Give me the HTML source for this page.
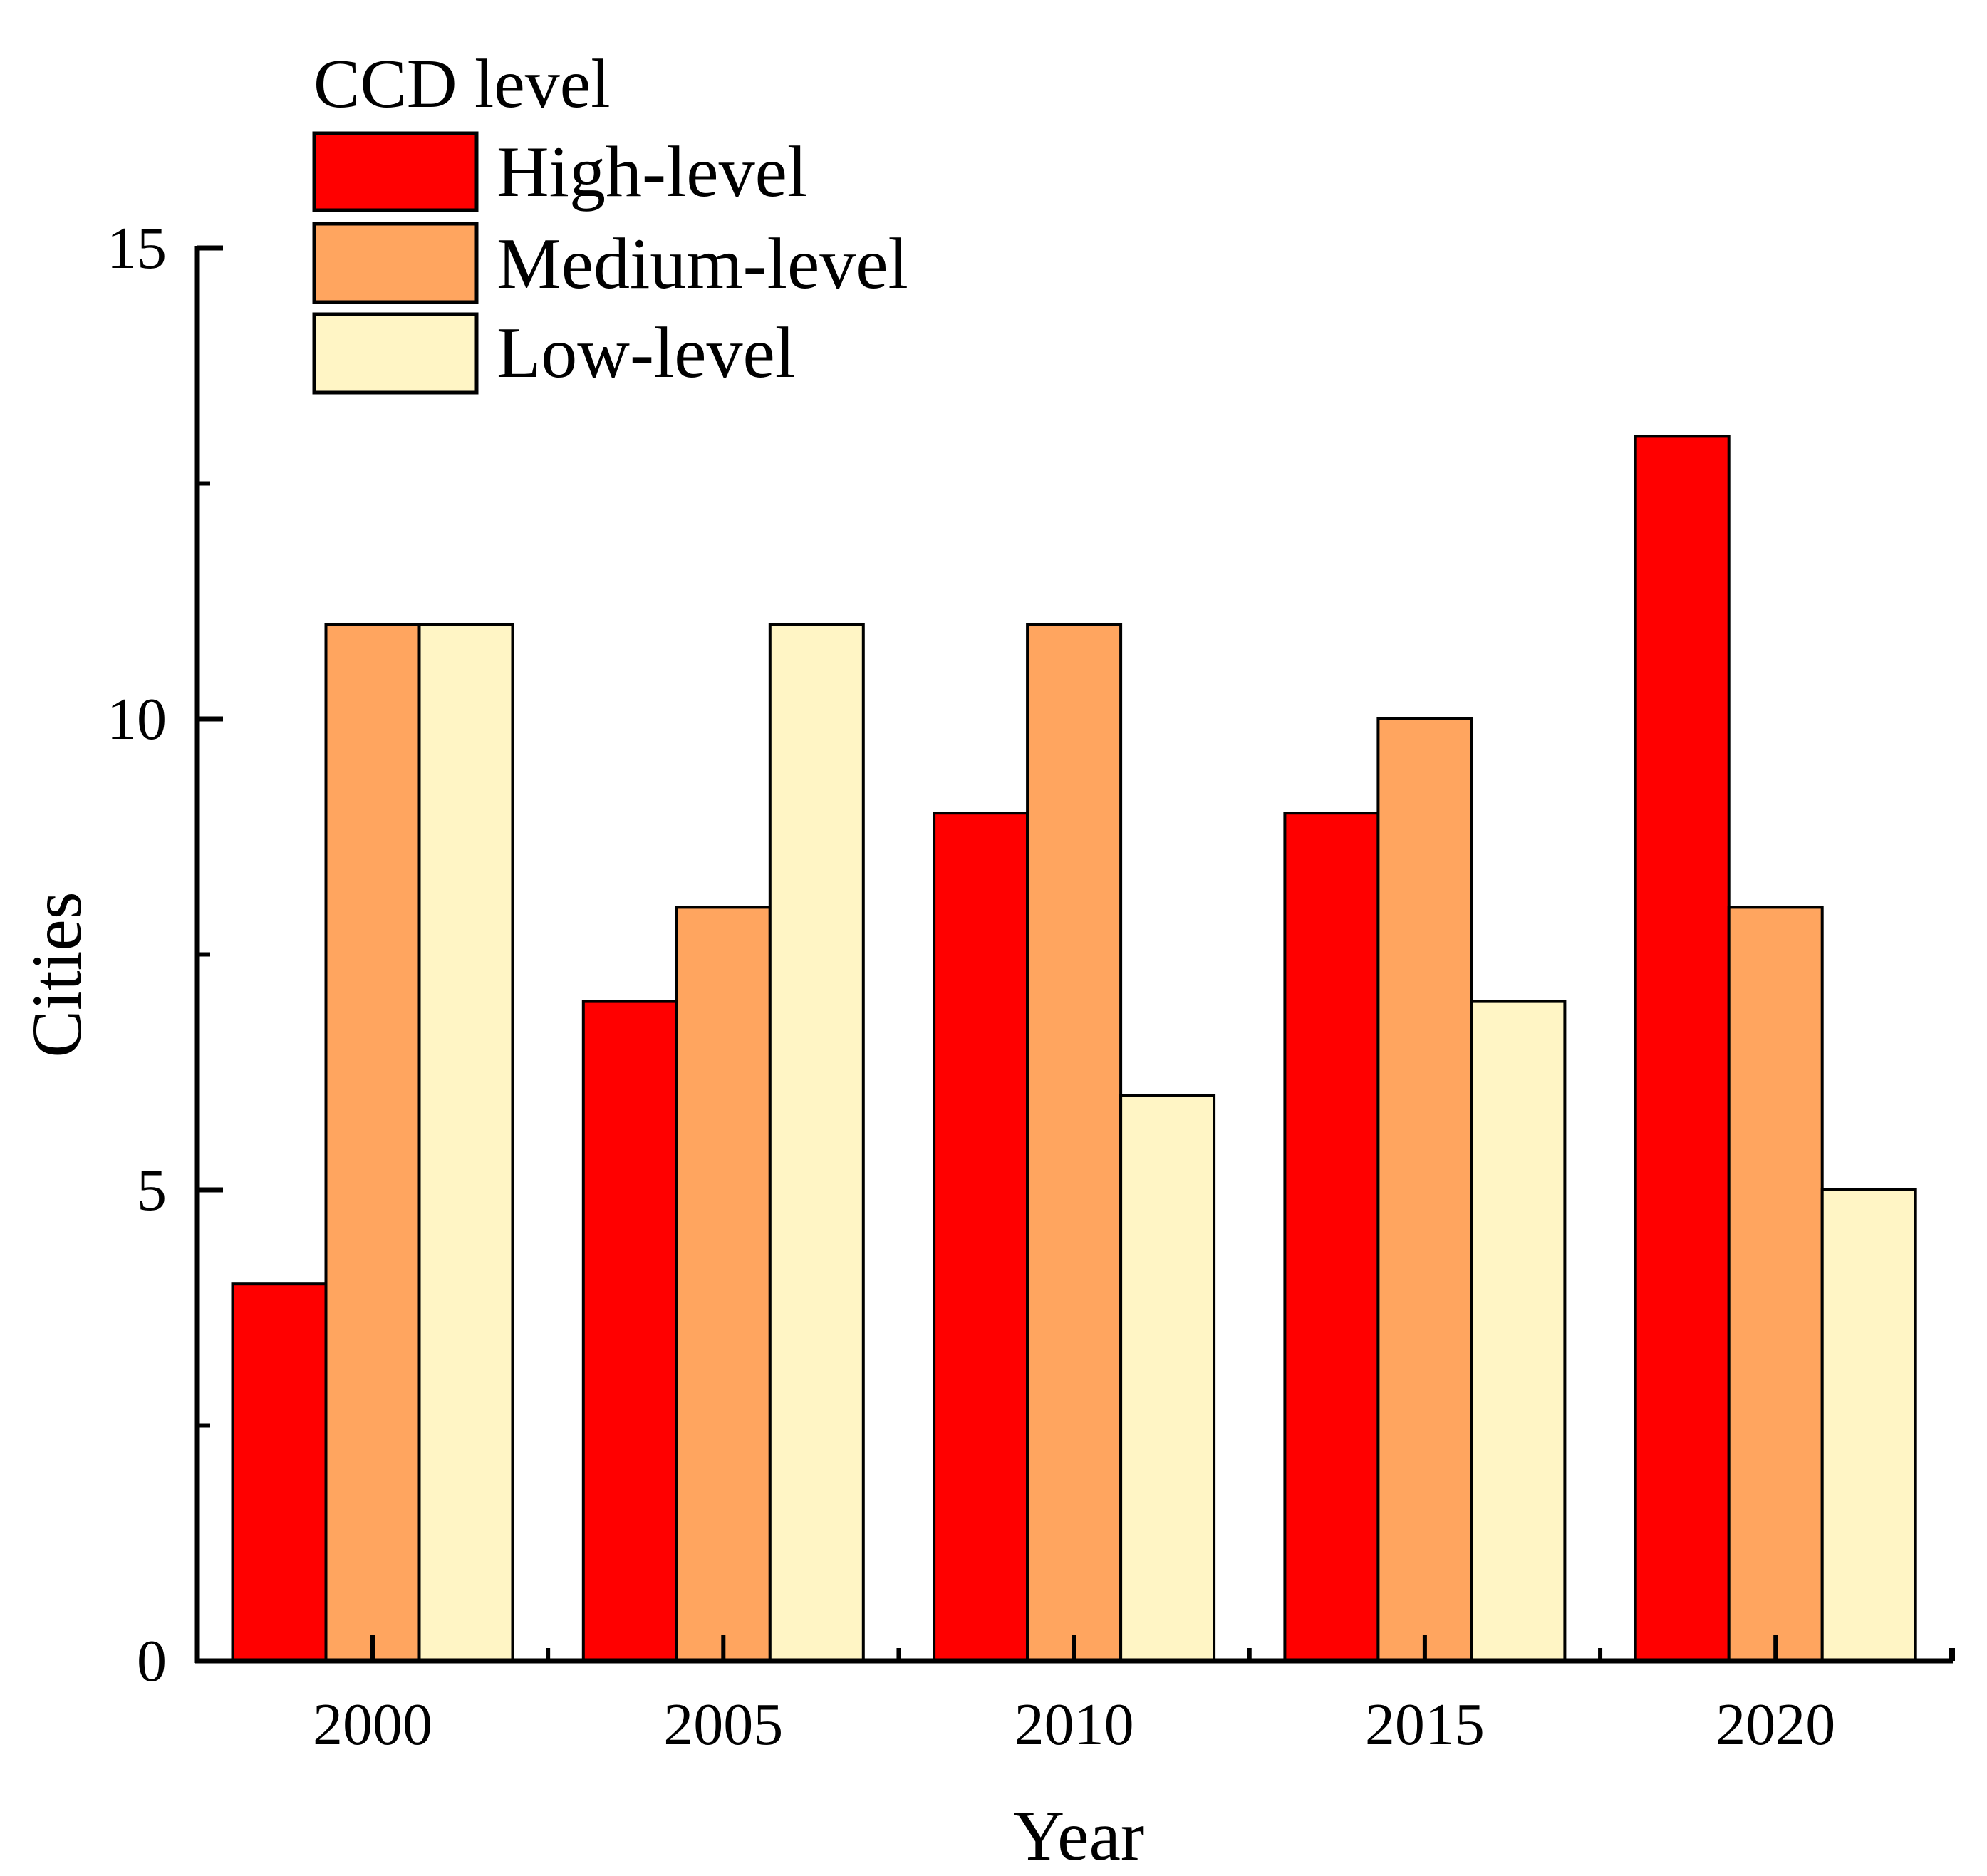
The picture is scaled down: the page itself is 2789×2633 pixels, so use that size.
<!DOCTYPE html>
<html><head><meta charset="utf-8"><style>
body{margin:0;background:#fff}
svg{display:block;font-family:"Liberation Serif",serif}
</style></head><body>
<svg id="chart" width="2789" height="2633" viewBox="0 0 2789 2633" xmlns="http://www.w3.org/2000/svg">
<rect width="2789" height="2633" fill="#fff"/>
<g id="bars"></g>
<g id="axes"></g>
<text x="0" y="0" font-size="100" text-anchor="middle" transform="translate(113,1368) rotate(-90)">Cities</text>
<text x="1514" y="2610" font-size="100" text-anchor="middle">Year</text>
<g>
<text x="440" y="150" font-size="98">CCD level</text>
<rect x="441" y="187" width="228" height="108" fill="#ff0000" stroke="#000" stroke-width="5"/>
<text x="697" y="275" font-size="102">High-level</text>
<rect x="441" y="314" width="228" height="110" fill="#ffa55f" stroke="#000" stroke-width="5"/>
<text x="697" y="404" font-size="102">Medium-level</text>
<rect x="441" y="441" width="228" height="110" fill="#fff5c5" stroke="#000" stroke-width="5"/>
<text x="697" y="529" font-size="102">Low-level</text>
</g>
</svg>
<script>
const categories=["2000","2005","2010","2015","2020"];
const highValues=[4,7,9,9,13];
const mediumValues=[11,8,11,10,8];
const lowValues=[11,11,6,7,5];
const yTicks=[0,5,10,15];
const NS="http://www.w3.org/2000/svg";
const X0=277,XEND=2741,Y0=2331,Y15=348,C0=523,STEP=492.3,BW=131;
function y(v){return Y0-(Y0-Y15)*v/15;}
function xc(i){return C0+i*STEP;}
function mk(tag,attrs,parent){const e=document.createElementNS(NS,tag);for(const k in attrs)e.setAttribute(k,attrs[k]);parent.appendChild(e);return e;}
const bars=document.getElementById('bars'),axes=document.getElementById('axes');
const series=[[highValues,"#ff0000","high"],[mediumValues,"#ffa55f","medium"],[lowValues,"#fff5c5","low"]];
categories.forEach((c,i)=>{
  series.forEach((s,j)=>{
    const v=s[0][i];
    const r=mk('rect',{x:xc(i)+(j-1.5)*BW,y:y(v),width:BW,height:Y0-y(v),fill:s[1],stroke:'#000','stroke-width':4},bars);
    
    
  });
  const t=mk('text',{x:xc(i),y:2448,'font-size':84,'text-anchor':'middle'},axes);
  t.textContent=c;
  
  
  mk('line',{x1:xc(i),x2:xc(i),y1:Y0,y2:Y0-36,stroke:'#000','stroke-width':6},axes);
  mk('line',{x1:xc(i)+STEP/2,x2:xc(i)+STEP/2,y1:Y0,y2:Y0-18,stroke:'#000','stroke-width':6},axes);
});
const ya=mk('line',{x1:X0,x2:X0,y1:Y15-3,y2:Y0+3,stroke:'#000','stroke-width':7},axes);


const xa=mk('line',{x1:X0-3,x2:XEND,y1:Y0,y2:Y0,stroke:'#000','stroke-width':7},axes);


mk('line',{x1:XEND,x2:XEND,y1:Y0,y2:Y0-18,stroke:'#000','stroke-width':6},axes);
yTicks.forEach(v=>{
  mk('line',{x1:X0,x2:X0+36,y1:y(v),y2:y(v),stroke:'#000','stroke-width':7},axes);
  if(v<15)mk('line',{x1:X0,x2:X0+18,y1:y(v+2.5),y2:y(v+2.5),stroke:'#000','stroke-width':6},axes);
  const t=mk('text',{x:234,y:y(v)+28,'font-size':84,'text-anchor':'end'},axes);
  t.textContent=v;
  
  
});
</script>
</body></html>
